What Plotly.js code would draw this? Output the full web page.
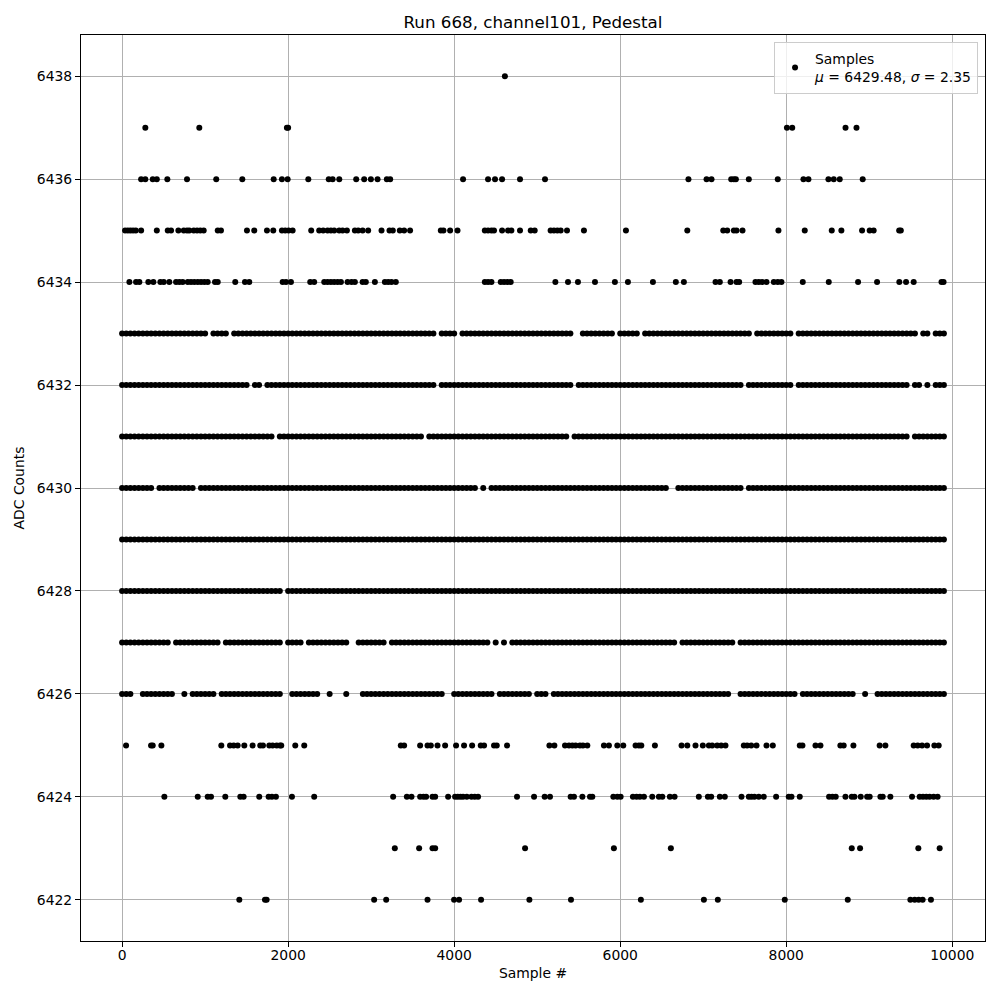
<!DOCTYPE html>
<html>
<head>
<meta charset="utf-8">
<script src="https://cdn.plot.ly/plotly-3.0.1.min.js"></script>
<style>html,body{margin:0;padding:0;background:#fff;}#chart{width:1000px;height:1000px;}</style>
</head>
<body>
<div id="chart"></div>
<script>
// ---- data ----
// Sparse ADC levels: sample numbers of individual points
const x6438 = [4611];
const x6437 = [280, 930, 1985, 2000, 8008, 8072, 8714, 8846];
const x6436 = [229, 280, 369, 418, 545, 782, 1134, 1448, 1826, 1925, 1994, 2243, 2489, 2536, 2616, 2820, 2916, 2997, 3077, 3189, 3229, 4107, 4408, 4492, 4577, 4793, 5094, 6822, 7040, 7100, 7337, 7369, 7393, 7549, 7898, 8207, 8267, 8508, 8572, 8644, 8921];
const x6435 = [36, 69, 100, 132, 165, 229, 418, 550, 590, 678, 743, 782, 810, 863, 903, 942, 983, 1152, 1191, 1504, 1592, 1745, 1821, 1925, 1965, 2006, 2054, 2278, 2374, 2422, 2475, 2515, 2555, 2615, 2656, 2708, 2804, 2844, 2897, 2964, 3125, 3221, 3261, 3345, 3397, 3469, 3839, 3871, 3951, 4040, 4369, 4408, 4449, 4480, 4577, 4649, 4689, 4793, 4922, 4970, 5162, 5202, 5243, 5283, 5359, 5563, 6069, 6808, 7241, 7289, 7369, 7401, 7473, 7906, 8223, 8548, 8664, 8913, 9005, 9053, 9360, 9380];
const x6434 = [88, 168, 208, 316, 377, 461, 502, 569, 650, 690, 730, 791, 830, 870, 911, 951, 991, 1031, 1119, 1152, 1363, 1480, 1532, 1934, 1974, 2034, 2266, 2314, 2435, 2475, 2515, 2555, 2596, 2636, 2716, 2764, 2804, 2897, 2936, 3045, 3165, 3205, 3245, 3297, 4369, 4408, 4449, 4561, 4601, 4641, 4681, 5219, 5371, 5491, 5696, 5936, 6093, 6394, 6670, 6767, 7148, 7200, 7329, 7401, 7433, 7629, 7669, 7710, 7762, 7850, 7898, 7942, 8199, 8512, 8865, 9094, 9362, 9443, 9535, 9870, 9895];
const x6425 = [48, 349, 369, 473, 1195, 1300, 1344, 1392, 1472, 1572, 1664, 1697, 1773, 1813, 1862, 1901, 1917, 2086, 2194, 3357, 3397, 3590, 3679, 3719, 3799, 3891, 4023, 4119, 4216, 4320, 4360, 4480, 4513, 4637, 5147, 5207, 5335, 5383, 5424, 5463, 5515, 5551, 5604, 5804, 5864, 5965, 6037, 6185, 6225, 6254, 6418, 6739, 6808, 6907, 6995, 7068, 7108, 7168, 7216, 7268, 7489, 7529, 7578, 7642, 7762, 7838, 8163, 8195, 8352, 8412, 8652, 8692, 8809, 9125, 9194, 9535, 9583, 9636, 9696, 9784, 9836];
const x6424 = [509, 911, 1031, 1071, 1243, 1424, 1464, 1652, 1765, 1805, 1853, 2046, 2314, 3265, 3430, 3486, 3590, 3630, 3662, 3739, 3771, 3927, 4011, 4043, 4076, 4107, 4152, 4208, 4248, 4288, 4757, 4962, 5090, 5154, 5403, 5443, 5544, 5636, 5664, 5917, 5965, 6005, 6153, 6197, 6237, 6286, 6386, 6466, 6507, 6598, 6655, 6947, 7056, 7096, 7200, 7260, 7461, 7549, 7581, 7617, 7669, 7729, 7878, 8030, 8063, 8163, 8516, 8556, 8596, 8713, 8789, 8821, 8897, 8974, 9005, 9134, 9162, 9254, 9515, 9607, 9647, 9687, 9727, 9775, 9823];
const x6423 = [3285, 3578, 3739, 3771, 4854, 5924, 6610, 8789, 8889, 9591, 9848];
const x6422 = [1412, 1721, 1741, 3036, 3181, 3679, 3999, 4059, 4324, 4906, 5407, 6249, 7008, 7176, 7982, 8741, 9495, 9547, 9595, 9643, 9743];

const sparseLevels = [6438, 6437, 6436, 6435, 6434, 6425, 6424, 6423, 6422];
const sparseSamples = [x6438, x6437, x6436, x6435, x6434, x6425, x6424, x6423, x6422];

// Dense ADC levels: occupancy read per 50-sample bin ('#' = points present, '.' = gap)
const binWidth = 50;
const lastSample = 9899;
const m6433 = "########## ########## #.####.### ########## ########## ########## ########## ######.### #.######## ########## #########. .########. #####.#### ########## ########## ##.####### ##.####### ########## ########## ##.##.###.";
const m6432 = "########## ########## ########## #.##.##### ########## ########## ########## ######.### ########## ########## #########. ########## ########## ########## ########## .######### ##.####### ########## ########## .##.#.###.";
const m6431 = "########## ########## ########## #######.## ########## ########## ########## ###.###### ########## ########## ########.# ########## ########## ########## ########## ########## ########## ########## ########## .########.";
const m6430 = "########.# ########.# ########## ########## ########## ########## ########## ########## ######.#.# ########## ########## ########## ########## ##..###### ########## .######### ########## ########## ########## #########.";
const m6429 = "########## ########## ########## ########## ########## ########## ########## ########## ########## ########## ########## ########## ########## ########## ########## ########## ########## ########## ########## #########.";
const m6428 = "########## ########## ########## #########. ########## ########## ########## ########## ########## ########## ########## ########## ########## ########## ########## ########## ########## ########## ########## #########.";
const m6427 = "########## ##.####### ####.##### #########. ####.##### #####..### ####.##### ########## #########. #.#.###### ########## ########## ########## ####.##### ########.# ########## ########## ########## ########## #########.";
const m6426 = "###..##### ###..#.### ###.###### #########. .#######.. #...#...## ########## ########.. ########## .########. ###.###### ########## ########## ########## #######..# ########## ###.###### #######..# ..######## #########.";

const denseLevels = [6433, 6432, 6431, 6430, 6429, 6428, 6427, 6426];
const denseMasks = [m6433, m6432, m6431, m6430, m6429, m6428, m6427, m6426];

const xTicks = [0, 2000, 4000, 6000, 8000, 10000];
const yTicks = [6422, 6424, 6426, 6428, 6430, 6432, 6434, 6436, 6438];

// ---- build one scatter series ----
const xs = [], ys = [];
sparseLevels.forEach((lvl, k) => {
  sparseSamples[k].forEach(s => { xs.push(s); ys.push(lvl); });
});
denseLevels.forEach((lvl, k) => {
  const m = denseMasks[k].replace(/\s+/g, '');
  for (let i = 0; i < m.length; i++) {
    if (m[i] === '#') { xs.push(Math.min(i * binWidth, lastSample)); ys.push(lvl); }
  }
});

const font = 'DejaVu Sans, Liberation Sans, sans-serif';
const axisCommon = {
  showgrid: true, gridcolor: '#b0b0b0', gridwidth: 1,
  showline: true, linecolor: 'black', linewidth: 1, mirror: true,
  ticks: 'outside', ticklen: 5, tickwidth: 1, tickcolor: 'black',
  zeroline: false, tickfont: {family: font, size: 13.9, color: 'black'},
  tickformat: 'd', automargin: false
};

const trace = {
  type: 'scatter', mode: 'markers', x: xs, y: ys,
  name: 'Samples<br><i>μ</i> = 6429.48, <i>σ</i> = 2.35',
  marker: {color: 'black', size: 6, line: {width: 0}},
  hoverinfo: 'x+y'
};

const layout = {
  width: 1000, height: 1000,
  margin: {l: 81, r: 15, t: 35, b: 59},
  paper_bgcolor: 'white', plot_bgcolor: 'white',
  title: {text: 'Run 668, channel101, Pedestal', font: {family: font, size: 16.7, color: 'black'},
          x: 0.533, xanchor: 'center', y: 0.978, yref: 'container', yanchor: 'middle'},
  xaxis: Object.assign({}, axisCommon, {
    range: [-495, 10394], tickvals: xTicks, ticklabelstandoff: -4,
    title: {text: 'Sample #', font: {family: font, size: 13.9, color: 'black'}, standoff: 6}
  }),
  yaxis: Object.assign({}, axisCommon, {
    range: [6421.2, 6438.8], tickvals: yTicks,
    title: {text: 'ADC Counts', font: {family: font, size: 13.9, color: 'black'}, standoff: 8}
  }),
  showlegend: true,
  legend: {x: 0.9923, y: 0.9923, xanchor: 'right', yanchor: 'top',
           bgcolor: 'rgba(255,255,255,0.8)', bordercolor: '#cccccc', borderwidth: 1,
           font: {family: font, size: 13.9, color: 'black'}, valign: 'middle'}
};

Plotly.newPlot('chart', [trace], layout, {displayModeBar: false, staticPlot: true});
</script>
</body>
</html>
